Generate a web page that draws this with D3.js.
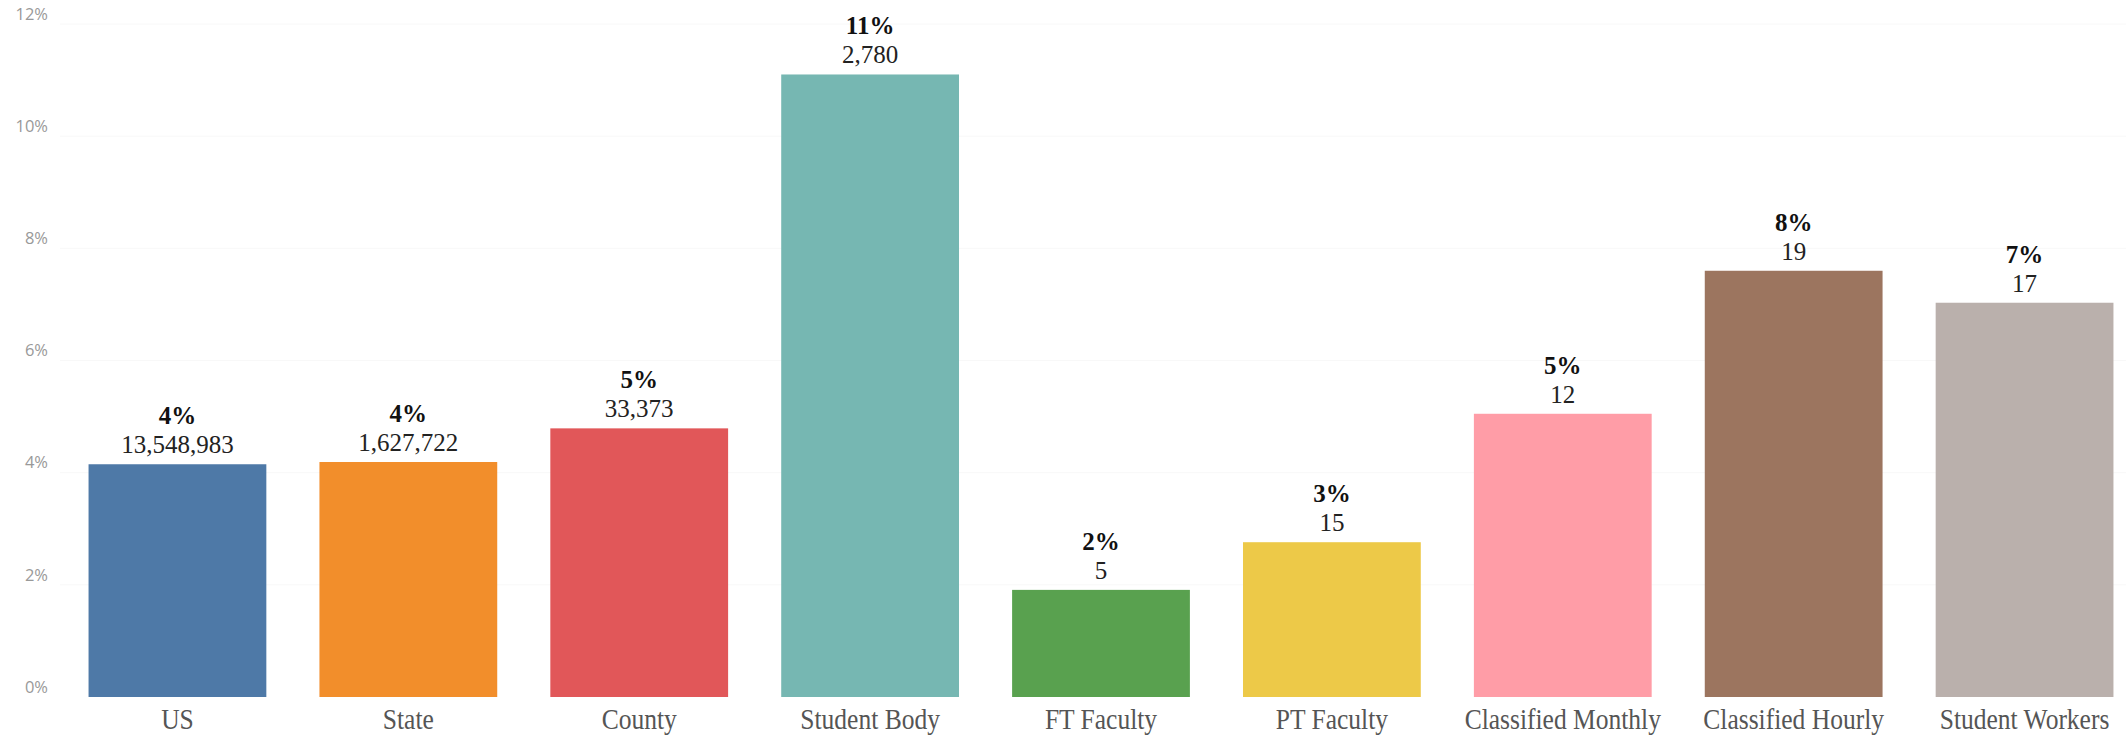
<!DOCTYPE html>
<html>
<head>
<meta charset="utf-8">
<script src="https://cdn.jsdelivr.net/npm/d3@7"></script>
<style>
  body { margin: 0; background: #fff; }
  svg { display: block; }
</style>
</head>
<body>
<script>
// dati
const categories = ["US", "State", "County", "Student Body", "FT Faculty", "PT Faculty",
  "Classified Monthly", "Classified Hourly", "Student Workers"];
const shares = [4.15, 4.19, 4.79, 11.1, 1.91, 2.76, 5.05, 7.6, 7.03];
const pctLabels = ["4%", "4%", "5%", "11%", "2%", "3%", "5%", "8%", "7%"];
const countLabels = ["13,548,983", "1,627,722", "33,373", "2,780", "5", "15", "12", "19", "17"];
const colors = ["#4e79a7", "#f28e2b", "#e15759", "#76b7b2", "#59a14f", "#edc948",
  "#ff9da7", "#9c755f", "#bab0ac"];
const yTicks = [0, 2, 4, 6, 8, 10, 12];

const width = 2126;
const height = 735;

const svg = d3.select("body")
  .append("svg")
  .attr("width", width)
  .attr("height", height);

const x = d3.scaleBand()
  .domain(categories)
  .range([62, 2140])
  .paddingInner(0.23)
  .paddingOuter(0.115);

const y = d3.scaleLinear()
  .domain([0, 12])
  .range([697, 24]);

// griglia appena visibile
svg.selectAll(".grid")
  .data(yTicks.slice(1))
  .enter()
  .append("line")
  .attr("x1", 60)
  .attr("x2", width)
  .attr("y1", d => y(d))
  .attr("y2", d => y(d))
  .attr("stroke", "#f8f8f8")
  .attr("stroke-width", 1);

// etichette asse y (spostate in su come nell'originale)
svg.selectAll(".ytick")
  .data(yTicks)
  .enter()
  .append("text")
  .attr("x", 48)
  .attr("y", d => y(d) - 10)
  .attr("dy", "0.35em")
  .attr("text-anchor", "end")
  .attr("font-family", "'Open Sans', sans-serif")
  .attr("font-size", 16.5)
  .attr("fill", "#999")
  .text(d => d + "%");

const idx = d3.range(categories.length);

svg.selectAll(".bar")
  .data(idx)
  .enter()
  .append("rect")
  .attr("x", i => x(categories[i]))
  .attr("y", i => y(shares[i]))
  .attr("width", x.bandwidth())
  .attr("height", i => y(0) - y(shares[i]))
  .attr("fill", i => colors[i]);

// percentuale in grassetto
svg.selectAll(".pct")
  .data(idx)
  .enter()
  .append("text")
  .attr("x", i => x(categories[i]) + x.bandwidth() / 2)
  .attr("y", i => y(shares[i]) - 40)
  .attr("text-anchor", "middle")
  .attr("font-family", "'Liberation Serif', serif")
  .attr("font-weight", "bold")
  .attr("font-size", 25)
  .attr("fill", "#111")
  .text(i => pctLabels[i]);

// conteggi
svg.selectAll(".count")
  .data(idx)
  .enter()
  .append("text")
  .attr("x", i => x(categories[i]) + x.bandwidth() / 2)
  .attr("y", i => y(shares[i]) - 11)
  .attr("text-anchor", "middle")
  .attr("font-family", "'Liberation Serif', serif")
  .attr("font-size", 25)
  .attr("fill", "#222")
  .text(i => countLabels[i]);

// etichette categorie, un po' strette come nell'originale
svg.selectAll(".cat")
  .data(idx)
  .enter()
  .append("text")
  .attr("transform", i => "translate(" + (x(categories[i]) + x.bandwidth() / 2) + ",729) scale(0.88,1)")
  .attr("text-anchor", "middle")
  .attr("font-family", "'Liberation Serif', serif")
  .attr("font-size", 29)
  .attr("fill", "#555")
  .text(i => categories[i]);
</script>
</body>
</html>
